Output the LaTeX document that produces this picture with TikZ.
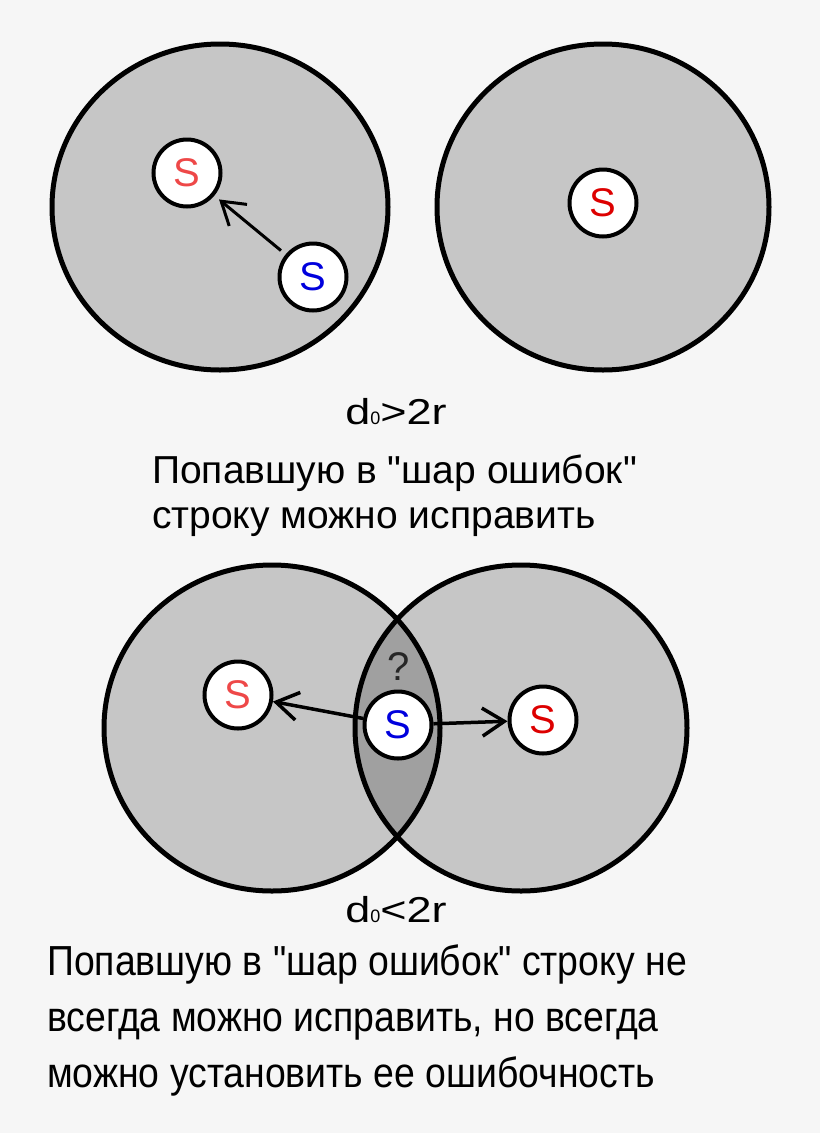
\documentclass[tikz,border=0pt]{standalone}
\usepackage{fontspec}
\setmainfont{Liberation Sans}
\newfontfamily\plainfont{Liberation Sans}
\newfontfamily\narrowfont[FakeStretch=0.89]{Liberation Sans}
\newfontfamily\widefont[FakeStretch=1.25]{Liberation Sans}
\usetikzlibrary{arrows.meta}

\definecolor{paper}{HTML}{F6F6F6}
\definecolor{zonegray}{HTML}{C6C6C6}
\definecolor{lensgray}{HTML}{A0A0A0}
\definecolor{lightred}{HTML}{EE4848}
\definecolor{deepred}{HTML}{DD0000}
\definecolor{deepblue}{HTML}{0000DD}

\tikzset{
    rim/.style={line width=5pt},
    word/.style={circle, draw, line width=4pt, fill=white, minimum size=67pt,
        inner sep=0pt, font=\plainfont\fontsize{40}{40}\selectfont},
    jump/.style={-{Straight Barb[length=22pt,width=28pt]}, line width=3pt},
    distlabel/.style={anchor=base, inner sep=0pt, font=\widefont\fontsize{36}{36}\selectfont},
    remark/.style={anchor=base west, inner sep=0pt, font=\plainfont\fontsize{39}{39}\selectfont},
    longremark/.style={anchor=base west, inner sep=0pt, font=\narrowfont\fontsize{42}{42}\selectfont}
}
\newcommand{\dzero}{d{\plainfont\fontsize{18}{18}\selectfont 0}}

\begin{document}
\begin{tikzpicture}[x=1pt,y=-1pt]
    \fill[paper] (0,0) rectangle (820,1133);
    \useasboundingbox (0,0) rectangle (820,1133);

    % Spheres far apart (top)
    \begin{scope}
        \filldraw[fill=zonegray, rim] (220,207) ellipse [x radius=168pt, y radius=163pt];
        \filldraw[fill=zonegray, rim] (603,207) ellipse [x radius=166pt, y radius=163pt];

        % Words
        \node[word, text=lightred] (near) at (187,173) {S};
        \node[word, text=deepblue] (got) at (313,277) {S};
        \node[word, text=deepred] (far) at (603,203) {S};

        % Correction
        \draw[jump, shorten <=6pt, shorten >=6pt] (got) -- (near);

        \node[distlabel] (apart) at (396,424) {\dzero>2r};
        \node[remark] (fixa) at (152,483) {Попавшую в "шар ошибок"};
        \node[remark] (fixb) at (152,528) {строку можно исправить};
    \end{scope}

    % Spheres overlapping (bottom)
    \begin{scope}
        \fill[zonegray] (272,728) ellipse [x radius=168pt, y radius=163pt];
        \fill[zonegray] (521,728) ellipse [x radius=166pt, y radius=163pt];
        \begin{scope}
            \clip (272,728) ellipse [x radius=168pt, y radius=163pt];
            \fill[lensgray] (521,728) ellipse [x radius=166pt, y radius=163pt];
        \end{scope}
        \draw[rim] (272,728) ellipse [x radius=168pt, y radius=163pt];
        \draw[rim] (521,728) ellipse [x radius=166pt, y radius=163pt];

        % Words
        \node[word, text=lightred] (left) at (238,695) {S};
        \node[word, text=deepblue] (mid) at (398,725) {S};
        \node[word, text=deepred] (right) at (543,720) {S};
        \node[remark, anchor=base, font=\plainfont\fontsize{40}{40}\selectfont, text=black!85] (doubt) at (399,680) {?};

        % Two ways to go
        \draw[jump, line width=3.5pt] (mid) -- (left);
        \draw[jump, line width=3.5pt] (mid) -- (right);

        \node[distlabel] (overlap) at (396,922) {\dzero<2r};
        \node[longremark] (nofixa) at (47,975) {Попавшую в "шар ошибок" строку не};
        \node[longremark] (nofixb) at (47,1031) {всегда можно исправить, но всегда};
        \node[longremark] (nofixc) at (47,1087) {можно установить ее ошибочность};
    \end{scope}
\end{tikzpicture}
\end{document}
